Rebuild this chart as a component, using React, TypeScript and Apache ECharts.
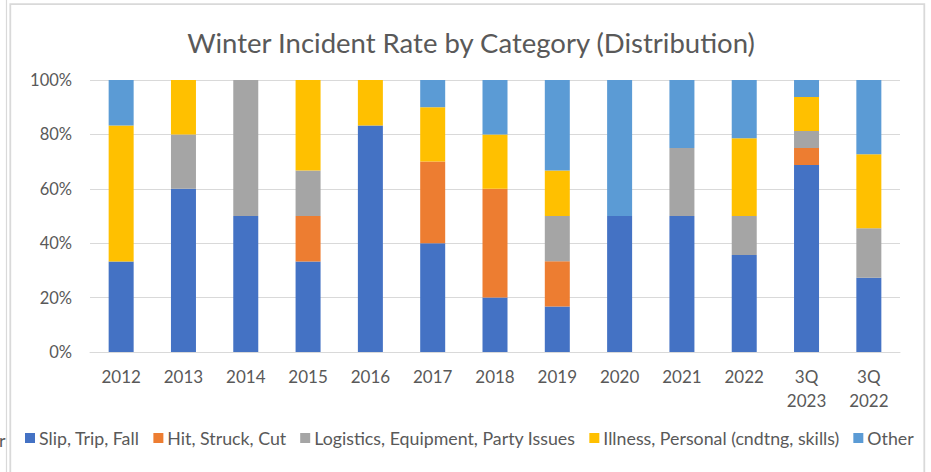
import React, { useEffect, useRef } from "react";
import * as echarts from "echarts";

const categories = ["2012", "2013", "2014", "2015", "2016", "2017", "2018", "2019", "2020", "2021", "2022", "3Q\n2023", "3Q\n2022"];
const seriesNames = [
  "Slip, Trip, Fall",
  "Hit, Struck, Cut",
  "Logistics, Equipment, Party Issues",
  "Illness, Personal (cndtng, skills)",
  "Other",
];
const slipTripFall = [33.3, 60, 50, 33.3, 83.3, 40, 20, 16.7, 50, 50, 35.7, 68.75, 27.3];
const hitStruckCut = [0, 0, 0, 16.7, 0, 30, 40, 16.7, 0, 0, 0, 6.25, 0];
const logistics = [0, 20, 50, 16.7, 0, 0, 0, 16.6, 0, 25, 14.3, 6.25, 18.2];
const illness = [50, 20, 0, 33.3, 16.7, 20, 20, 16.7, 0, 0, 28.6, 12.5, 27.2];
const other = [16.7, 0, 0, 0, 0, 10, 20, 33.3, 50, 25, 21.4, 6.25, 27.3];
const colors = ["#4472C4", "#ED7D31", "#A5A5A5", "#FFC000", "#5B9BD5"];
const yTicks = [0, 20, 40, 60, 80, 100];

const FONT = "Lato";
const TEXT = "#595959";

export default function App() {
  const ref = useRef<HTMLDivElement>(null);
  useEffect(() => {
    if (!ref.current) return;
    const chart = echarts.init(ref.current, null, { renderer: "svg" });
    const data = [slipTripFall, hitStruckCut, logistics, illness, other];
    chart.setOption({
      animation: false,
      backgroundColor: "#fff",
      title: {
        text: "Winter Incident Rate by Category (Distribution)",
        left: 466,
        textAlign: "center",
        top: 23,
        textStyle: { fontFamily: FONT, fontSize: 27.5, fontWeight: "normal", color: TEXT },
      },
      grid: { left: 90, right: 31, top: 80, bottom: 120, containLabel: false },
      legend: {
        left: 25,
        top: 429,
        width: 904,
        padding: 0,
        itemWidth: 10,
        itemHeight: 10,
        itemGap: 14,
        icon: "rect",
        textStyle: { fontFamily: FONT, fontSize: 17.8, color: TEXT, padding: [0, 0, 0, -1] },
        data: seriesNames,
      },
      xAxis: {
        type: "category",
        data: categories,
        axisLine: { lineStyle: { color: "#D9D9D9", width: 1 } },
        axisTick: { show: false },
        axisLabel: {
          fontFamily: FONT,
          fontSize: 17,
          color: TEXT,
          margin: 12,
          lineHeight: 24,
          interval: 0,
        },
      },
      yAxis: {
        type: "value",
        min: 0,
        max: 100,
        interval: 20,
        axisLine: { show: false },
        axisTick: { show: false },
        splitLine: { lineStyle: { color: "#D9D9D9", width: 1 } },
        axisLabel: {
          fontFamily: FONT,
          fontSize: 16.5,
          color: TEXT,
          margin: 18,
          formatter: (v: number) => (yTicks.includes(v) ? v + "%" : ""),
        },
      },
      series: seriesNames.map((name, i) => ({
        name,
        type: "bar",
        stack: "total",
        barWidth: 25,
        data: data[i],
        itemStyle: { color: colors[i] },
      })),
      graphic: [
        {
          type: "line",
          shape: { x1: 6.5, y1: 0, x2: 6.5, y2: 472 },
          style: { stroke: "#D9D9D9", lineWidth: 1.2 },
          silent: true,
        },
        {
          type: "rect",
          shape: { x: 10.3, y: 4.2, width: 914, height: 480 },
          style: { fill: "none", stroke: "#D9D9D9", lineWidth: 1.8 },
          silent: true,
        },
        {
          type: "text",
          x: 5.5,
          y: 440,
          style: {
            text: "r",
            fontFamily: FONT,
            fontSize: 17.8,
            fill: TEXT,
            align: "right",
            verticalAlign: "middle",
          },
          silent: true,
        },
      ],
    });
    return () => chart.dispose();
  }, []);
  return (
    <div
      ref={ref}
      style={{ position: "absolute", left: 0, top: 0, width: 931, height: 472 }}
    />
  );
}
